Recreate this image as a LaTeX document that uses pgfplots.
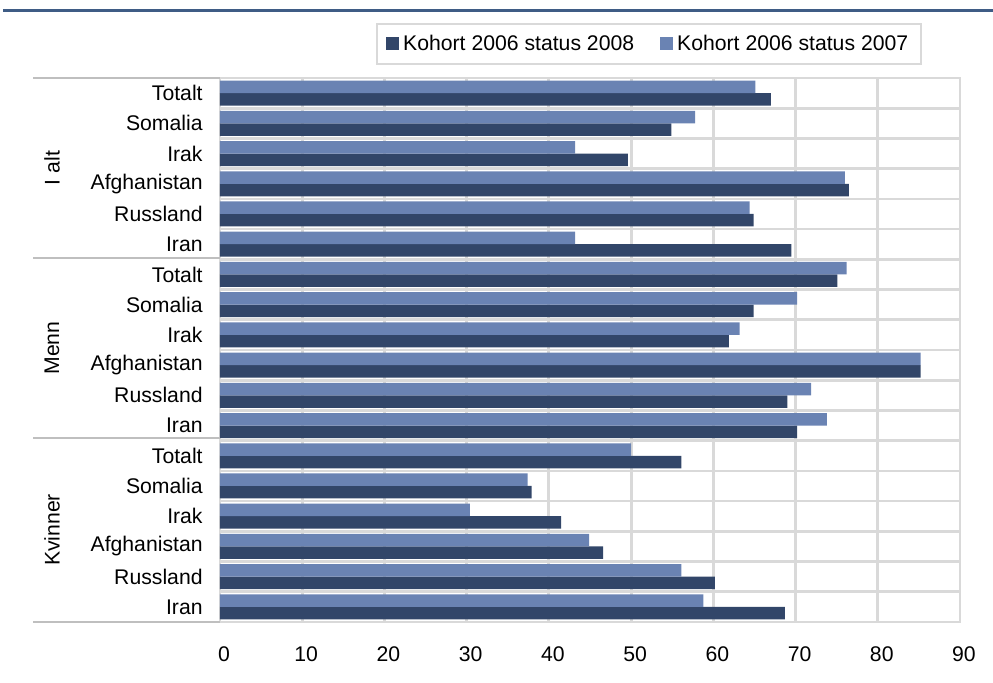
\documentclass[border=0pt]{standalone}
\usepackage{pgfplots}
\pgfplotsset{compat=1.18}
\usepackage{pgfplotstable}
\usepackage{fontspec}
\setmainfont{Liberation Sans}
\definecolor{darkbar}{HTML}{324669}
\definecolor{lightbar}{HTML}{6A83B3}
\definecolor{gridgray}{HTML}{D9D9D9}
\definecolor{sepgray}{HTML}{BFBFBF}
\definecolor{topline}{HTML}{3F5C85}
\newcommand{\cf}{\fontsize{10.6}{12.5}\selectfont}
\pgfplotstableread{
y light dark
17 65.1 67.0
16 57.8 54.9
15 43.2 49.6
14 76.0 76.5
13 64.4 64.9
12 43.2 69.5
11 76.2 75.1
10 70.2 64.9
9 63.2 61.9
8 85.2 85.2
7 71.9 69.0
6 73.8 70.2
5 50.0 56.1
4 37.4 37.9
3 30.4 41.5
2 44.9 46.6
1 56.1 60.2
0 58.8 68.7
}\datatable
\begin{document}
\cf
\begin{tikzpicture}[x=0.5pt,y=0.5pt]
\useasboundingbox (0,0) rectangle (993,683);
\draw[topline, line width=1.5pt] (3,672) -- (993,672);
\begin{axis}[
  at={(110pt,30.5pt)}, anchor=south west,
  scale only axis, width=370pt, height=272pt,
  xbar, bar width=6.25pt,
  xmin=0, xmax=90, ymin=-0.5, ymax=17.5,
  enlargelimits=false,
  xtick={0,10,...,90},
  ytick={0,...,17},
  yticklabels={Iran,Russland,Afghanistan,Irak,Somalia,Totalt,Iran,Russland,Afghanistan,Irak,Somalia,Totalt,Iran,Russland,Afghanistan,Irak,Somalia,Totalt},
  minor ytick={0.5,1.5,...,16.5},
  xmajorgrids, yminorgrids,
  grid style={draw=gridgray, line width=1.4pt},
  minor grid style={draw=gridgray, line width=1.3pt},
  axis line style={draw=gridgray, line width=1.3pt},
  major tick length=0pt, minor tick length=0pt,
  tick style={draw=none},
  /pgf/number format/assume math mode=true,
  every tick label/.append style={font=\cf},
  yticklabel style={anchor=east, inner sep=0pt, xshift=-8.5pt},
  xticklabel style={anchor=north, inner sep=0pt, yshift=-12pt, xshift=2pt},
  legend columns=2,
  legend style={at={(0.580,1.0625)}, anchor=center, draw=gridgray, line width=0.8pt,
    font=\cf, inner xsep=4.5pt, inner ysep=3.5pt,
    /tikz/every even column/.append style={column sep=11pt}},
  legend image code/.code={\fill[#1, draw=none] (0pt,-3.25pt) rectangle (6.5pt,3.25pt);},
]
\addplot[fill=darkbar, draw=none, bar shift=-3.125pt] table[x=dark, y=y] {\datatable};
\addlegendentry{Kohort 2006 status 2008}
\addplot[fill=lightbar, draw=none, bar shift=3.125pt] table[x=light, y=y] {\datatable};
\addlegendentry{Kohort 2006 status 2007}
\end{axis}
\foreach \yy in {605,425,245,61} {\draw[sepgray, line width=0.6pt] (33,\yy) -- (220,\yy);}
\node[rotate=90, font=\cf] at (52,515) {I alt};
\node[rotate=90, font=\cf] at (52,335) {Menn};
\node[rotate=90, font=\cf] at (52,153) {Kvinner};
\end{tikzpicture}
\end{document}
